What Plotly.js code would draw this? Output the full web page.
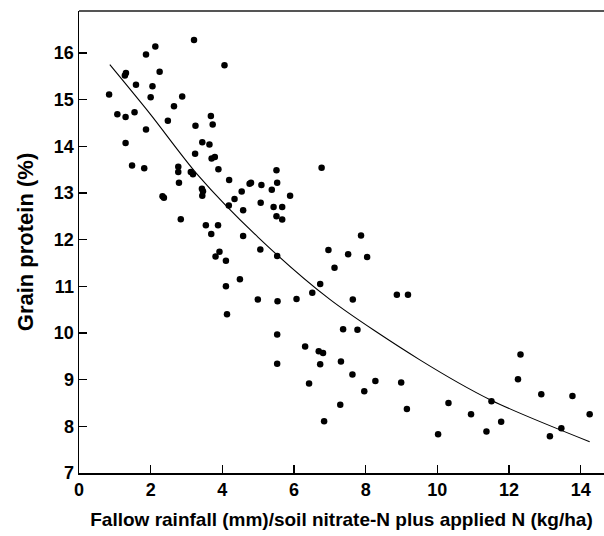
<!DOCTYPE html>
<html>
<head>
<meta charset="utf-8">
<script src="https://cdn.plot.ly/plotly-3.0.1.min.js"></script>
<style>html,body{margin:0;padding:0;background:#fff;}#chart{width:604px;height:536px;}</style>
</head>
<body>
<div id="chart"></div>
<script>
// Observed points: fallow rainfall / N ratio (x) vs grain protein % (y)
const ratioX = [
0.84,1.07,1.30,1.30,1.28,1.31,1.48,1.55,1.59,1.82,1.87,1.87,2.00,2.05,2.13,2.25,2.48,2.65,2.77,2.77,
2.88,3.12,3.18,3.21,3.25,3.44,3.64,3.68,3.73,3.70,3.79,3.24,3.89,4.06,4.19,2.79,2.33,2.37,2.84,3.43,
3.46,3.44,4.18,4.34,4.54,4.76,4.80,5.09,5.07,4.58,3.54,3.88,3.69,4.58,5.06,3.81,3.92,4.10,4.49,4.10,
4.99,4.13,5.38,5.51,5.53,5.89,5.43,5.67,5.51,5.67,6.77,5.53,6.96,7.87,7.51,8.04,7.13,6.73,6.51,6.07,
5.54,7.64,8.87,9.18,5.53,7.37,7.77,6.31,6.69,6.81,5.53,6.73,7.31,7.63,6.42,8.27,7.96,8.99,7.29,9.15,
6.84,10.31,10.02,10.94,11.51,11.37,11.78,12.32,12.25,12.90,13.77,14.25,13.46,13.14
];
const proteinY = [
15.11,14.69,14.63,14.07,15.52,15.57,13.59,14.73,15.32,13.53,15.97,14.36,15.05,15.29,16.14,15.60,14.55,14.86,13.56,13.45,
15.07,13.45,13.40,16.28,14.44,14.09,14.04,14.65,14.47,13.74,13.77,13.84,13.51,15.74,13.28,13.22,12.93,12.90,12.44,13.09,
13.04,12.94,12.73,12.87,13.03,13.20,13.22,13.17,12.79,12.63,12.31,12.31,12.12,12.08,11.79,11.64,11.74,11.55,11.15,11.00,
10.72,10.40,13.07,13.49,13.22,12.94,12.70,12.70,12.50,12.43,13.54,11.65,11.78,12.09,11.69,11.63,11.40,11.05,10.86,10.73,
10.68,10.72,10.82,10.82,9.97,10.08,10.07,9.71,9.61,9.57,9.34,9.33,9.39,9.11,8.92,8.97,8.75,8.94,8.46,8.37,
8.11,8.50,7.83,8.26,8.54,7.89,8.10,9.54,9.01,8.69,8.65,8.26,7.96,7.79
];
// Fitted curve
const fitX = [0.86, 2.0, 3.3, 5.0, 7.0, 9.5, 11.5, 14.25];
const fitY = [15.75, 14.68, 13.40, 12.05, 10.72, 9.43, 8.56, 7.67];

const xTicks = [0, 2, 4, 6, 8, 10, 12, 14];
const yTicks = [7, 8, 9, 10, 11, 12, 13, 14, 15, 16];

const fontFam = 'Arial, "Liberation Sans", Helvetica, sans-serif';

const traces = [
  {x: ratioX, y: proteinY, type: 'scatter', mode: 'markers',
   marker: {color: '#000', size: 6.5}},
  {x: fitX, y: fitY, type: 'scatter', mode: 'lines',
   line: {color: '#000', width: 1.1, shape: 'spline', smoothing: 0.8}}
];

const layout = {
  width: 604, height: 536,
  margin: {l: 79, r: 0, t: 11, b: 63},
  paper_bgcolor: '#fff', plot_bgcolor: '#fff',
  showlegend: false,
  font: {family: fontFam, color: '#000', size: 18, weight: 700},
  xaxis: {
    range: [0, 14.65], tickmode: 'array', tickvals: xTicks, ticktext: xTicks.map(String),
    ticks: 'inside', ticklen: 8, tickcolor: '#000', tickwidth: 1.5,
    showline: true, linecolor: '#000', linewidth: 1.5,
    showgrid: false, zeroline: false,
    tickfont: {family: fontFam, size: 18, color: '#000', weight: 700},
    title: {text: 'Fallow rainfall (mm)/soil nitrate-N plus applied N (kg/ha)',
            font: {family: fontFam, size: 19, color: '#000', weight: 700}, standoff: 13}
  },
  yaxis: {
    range: [7, 16.9], tickmode: 'array', tickvals: yTicks, ticktext: yTicks.map(String),
    ticks: 'inside', ticklen: 8, tickcolor: '#000', tickwidth: 1.5,
    showline: true, linecolor: '#000', linewidth: 1.5,
    showgrid: false, zeroline: false,
    tickfont: {family: fontFam, size: 18, color: '#000', weight: 700},
    title: {text: 'Grain protein (%)',
            font: {family: fontFam, size: 22, color: '#000', weight: 700}, standoff: 14}
  },
  shapes: [
    {type: 'line', xref: 'paper', yref: 'paper', x0: 0, x1: 1, y0: 1, y1: 1,
     line: {color: '#555', width: 2}}
  ]
};

Plotly.newPlot('chart', traces, layout, {displayModeBar: false, staticPlot: true});
</script>
</body>
</html>
